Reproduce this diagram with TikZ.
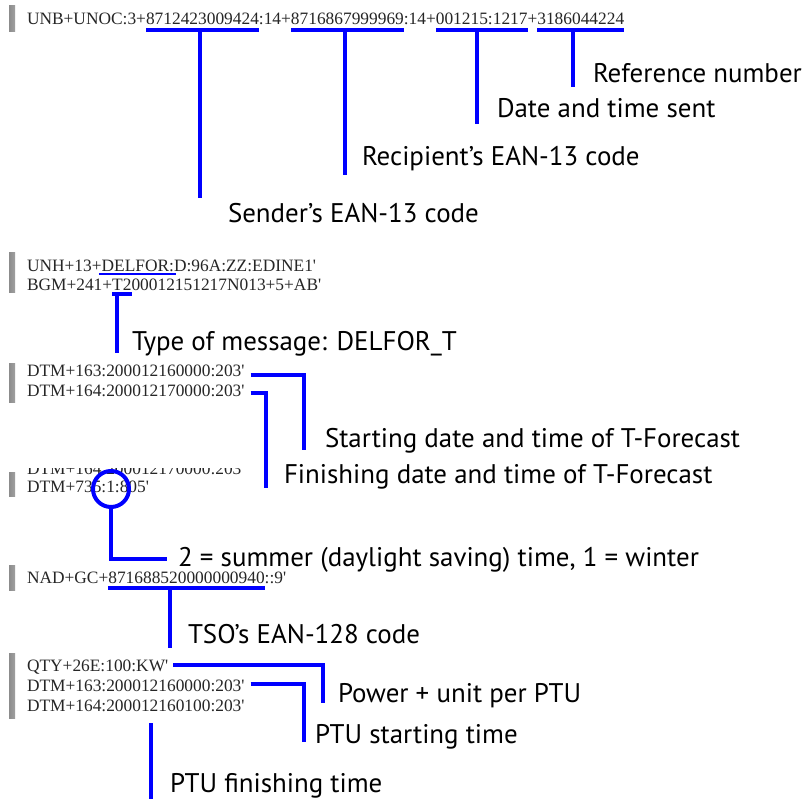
\documentclass[tikz,border=0pt]{standalone}
\usepackage{fontspec}
\usetikzlibrary{calc}
\newfontfamily\codefont{Liberation Serif}[Ligatures=TeXOff]
\newfontfamily\labfont{PT Sans}
\definecolor{lineblue}{RGB}{0,0,255}
\tikzset{
  bl/.style={draw=lineblue, line width=3pt, line join=miter, line cap=butt},
  blthin/.style={draw=lineblue, line width=2pt, line cap=butt},
  code/.style={font={\codefont\fontsize{13.03pt}{14pt}\selectfont}, text=black!85, inner sep=0pt, outer sep=0pt, anchor=base west},
  lab/.style={font={\labfont\fontsize{20.2pt}{24pt}\selectfont}, text=black, inner sep=0pt, outer sep=0pt, anchor=base west}
}
\newcommand{\graybar}[2]{\shade[left color=gray!90, middle color=gray!15, right color=gray!75] (9,#1) rectangle (15,#2);}
\begin{document}
\begin{tikzpicture}[x=0.75pt,y=-0.75pt]
\useasboundingbox (0,0) rectangle (805,798);
\fill[white] (0,0) rectangle (805,798);

% ---------- block 1 ----------
\graybar{6}{32}
\node[code] (u1a) at (27,25) {UNB+UNOC:3+};
\node[code] (u1s) at (u1a.base east) {8712423009424};
\node[code] (u1b) at (u1s.base east) {:14+};
\node[code] (u1r) at (u1b.base east) {8716867999969};
\node[code] (u1c) at (u1r.base east) {:14+};
\node[code] (u1d) at (u1c.base east) {001215:1217};
\node[code] (u1e) at (u1d.base east) {+};
\node[code] (u1f) at (u1e.base east) {3186044224};
\coordinate (ya) at (0,30);
\coordinate (k1s) at (200,198);
\coordinate (k1r) at (345,175);
\coordinate (k1d) at (477,124);
\coordinate (k1f) at (573,87);
\draw[bl] (u1s.west |- ya) -- (u1s.east |- ya);
\draw[bl] (u1r.west |- ya) -- (u1r.east |- ya);
\draw[bl] (u1d.west |- ya) -- (u1d.east |- ya);
\draw[bl] (u1f.west |- ya) -- (u1f.east |- ya);
\draw[bl] (k1s |- ya) -- (k1s);
\draw[bl] (k1r |- ya) -- (k1r);
\draw[bl] (k1d |- ya) -- (k1d);
\draw[bl] (k1f |- ya) -- (k1f);
\node[lab] (l1s) at (228,223) {Sender’s EAN-13 code};
\node[lab] (l1r) at (362,166) {Recipient’s EAN-13 code};
\node[lab] (l1d) at (497,118) {Date and time sent};
\node[lab] (l1f) at (593,83) {Reference number};

% ---------- block 2 ----------
\graybar{253}{292}
\node[code] (b2a) at (27,272) {UNH+13+};
\node[code] (b2d) at (b2a.base east) {DELFOR};
\node[code] (b2e) at (b2d.base east) {:D:96A:ZZ:EDINE1'};
\node[code] (b2f) at (27,291) {BGM+241+};
\node[code] (b2t) at (b2f.base east) {T2};
\node[code] (b2g) at (b2t.base east) {00012151217N013+5+AB'};
\coordinate (yb) at (0,274);
\coordinate (yc) at (0,294);
\coordinate (k2) at (117,353);
\draw[blthin] ([xshift=-2pt]b2d.west |- yb) -- ([xshift=5pt]b2d.east |- yb);
\draw[bl] (b2t.west |- yc) -- (b2t.east |- yc);
\draw[bl] (k2 |- yc) -- (k2);
\node[lab] (l2) at (132,350) {Type of message: DELFOR\_T};

% ---------- block 3 ----------
\graybar{363}{402}
\node[code] (b3a) at (27,376) {DTM+163:200012160000:203'};
\node[code] (b3b) at (27,396) {DTM+164:200012170000:203'};
\coordinate (k3a) at (304,450);
\coordinate (k3b) at (266,488);
\draw[bl] ($(b3a.base east)+(6,-1)$) -| (k3a);
\draw[bl] ($(b3b.base east)+(6,-3)$) -| (k3b);
\node[lab] (l3a) at (325,447) {Starting date and time of T-Forecast};
\node[lab] (l3b) at (284,483) {Finishing date and time of T-Forecast};

% ---------- block 4 ----------
\graybar{472}{496}
\begin{scope}
\clip (20,468.5) rectangle (300,480);
\node[code] (b4a) at (27,474) {DTM+164:200012170000:203'};
\end{scope}
\node[code] (b4b) at (27,492) {DTM+735:1:805'};
\node[circle, draw=lineblue, line width=3pt, minimum size=27pt, inner sep=0pt, outer sep=0pt] (ring) at (111,489) {};
\coordinate (k4) at (167,559);
\draw[bl] (ring.south) |- (k4);
\node[lab] (l4) at (178,566) {2 = summer (daylight saving) time, 1 = winter};

% ---------- block 5 ----------
\graybar{565}{590}
\node[code] (b5a) at (27,583) {NAD+GC+};
\node[code] (b5n) at (b5a.base east) {871688520000000940};
\node[code] (b5b) at (b5n.base east) {::9'};
\coordinate (yd) at (0,588);
\coordinate (k5) at (170,648);
\draw[bl] (b5n.west |- yd) -- (b5n.east |- yd);
\draw[bl] (k5 |- yd) -- (k5);
\node[lab] (l5) at (188,643) {TSO’s EAN-128 code};

% ---------- block 6 ----------
\graybar{653}{718}
\node[code] (b6a) at (27,671) {QTY+26E:100:KW'};
\node[code] (b6b) at (27,691) {DTM+163:200012160000:203'};
\node[code] (b6c) at (27,711) {DTM+164:200012160100:203'};
\coordinate (k6a) at (323,703);
\coordinate (k6b) at (304,742);
\coordinate (k6c) at (151,723);
\coordinate (k6d) at (151,800);
\draw[bl] ($(b6a.base east)+(5,-6)$) -| (k6a);
\draw[bl] ($(b6b.base east)+(6,-7)$) -| (k6b);
\draw[bl] (k6c) -- (k6d);
\node[lab] (l6a) at (338,702) {Power + unit per PTU};
\node[lab] (l6b) at (315,743) {PTU starting time};
\node[lab] (l6c) at (170,792) {PTU finishing time};
\end{tikzpicture}
\end{document}
